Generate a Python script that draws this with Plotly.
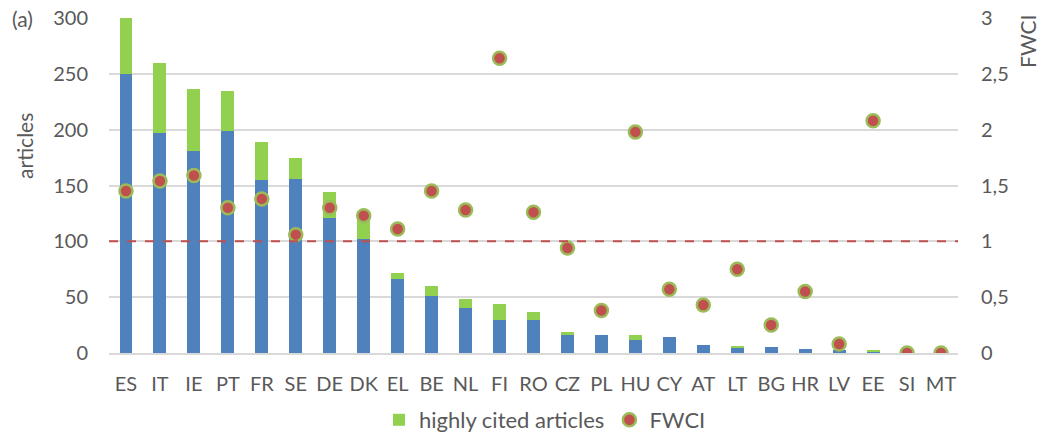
import plotly.graph_objects as go

countries = ["ES","IT","IE","PT","FR","SE","DE","DK","EL","BE","NL","FI","RO","CZ","PL","HU","CY","AT","LT","BG","HR","LV","EE","SI","MT"]
articles = [250,197,181,199,155,156,121,102,66,51,40,30,30,16,16,12,14,7,5,5,4,3,1,0,0]
highly_cited = [50,63,55,36,34,19,23,25,6,9,8,14,7,3,0,4,0,0,1,0,0,0,2,0,0]
fwci = [1.45,1.54,1.59,1.30,1.38,1.06,1.30,1.23,1.11,1.45,1.28,2.64,1.26,0.94,0.38,1.98,0.57,0.43,0.75,0.25,0.55,0.08,2.08,0.0,0.0]
reference_fwci = 1.0

TXT = "#595959"
FONT = "Lato, 'Open Sans', sans-serif"

fig = go.Figure()
fig.add_trace(go.Bar(x=countries, y=articles, name="articles", marker_color="#4F81BD",
                     marker_line_width=0, showlegend=False, width=0.38))
fig.add_trace(go.Bar(x=countries, y=highly_cited, name="highly cited articles", marker_color="#92D050",
                     marker_line_width=0, width=0.38))
fig.add_trace(go.Scatter(x=countries, y=fwci, name="FWCI", mode="markers", yaxis="y2",
                         marker=dict(size=13, color="#C0504D", line=dict(color="#9BBB59", width=2.5))))

fig.add_shape(type="line", xref="paper", x0=0, x1=1, yref="y2", y0=reference_fwci, y1=reference_fwci,
              line=dict(color="#C0504D", width=2, dash="dash"))

fig.update_layout(
    template="none",
    autosize=False,
    width=1046, height=437,
    margin=dict(l=109, r=88, t=18, b=84, pad=0),
    barmode="stack",
    plot_bgcolor="white", paper_bgcolor="white",
    font=dict(family=FONT, size=20, color=TXT),
    separators=", ",
    xaxis=dict(automargin=False, showgrid=False, showline=True, linecolor="#D9D9D9", linewidth=1.5,
               tickfont=dict(size=20, color=TXT), ticks="outside", ticklen=12, tickcolor="rgba(0,0,0,0)",
               range=[-0.5, len(countries) - 0.5]),
    yaxis=dict(automargin=False, range=[0, 300], dtick=50, showgrid=True, gridcolor="#D9D9D9", gridwidth=1.5,
               zeroline=False, showline=False, tickfont=dict(size=20, color=TXT), ticks="",
               ticklabelstandoff=20),
    yaxis2=dict(automargin=False, range=[0, 3], dtick=0.5, overlaying="y", side="right", showgrid=False,
                zeroline=False, showline=False, tickfont=dict(size=20, color=TXT), ticks="",
                ticklabelstandoff=22),
    showlegend=True,
    legend=dict(orientation="h", x=0.521, xanchor="center", xref="container",
                y=1 - 420 / 437, yanchor="middle", yref="container",
                traceorder="normal", font=dict(size=22, color=TXT), bgcolor="rgba(0,0,0,0)"),
    annotations=[
        dict(text="(a)", xref="paper", yref="paper", x=-0.117, y=1.0, xanchor="left", yanchor="middle",
             showarrow=False, font=dict(size=21, color=TXT)),
        dict(text="articles", xref="paper", yref="paper", x=-0.099, y=0.618, textangle=-90,
             xanchor="center", yanchor="middle", showarrow=False, font=dict(size=21, color=TXT)),
        dict(text="FWCI", xref="paper", yref="paper", x=1.081, y=0.931, textangle=-90,
             xanchor="center", yanchor="middle", showarrow=False, font=dict(size=21, color=TXT)),
    ],
)

fig.write_html("out.html",
               config={"responsive": False, "displayModeBar": False},
               post_script="document.body.style.margin='0';document.body.style.overflow='hidden';")
